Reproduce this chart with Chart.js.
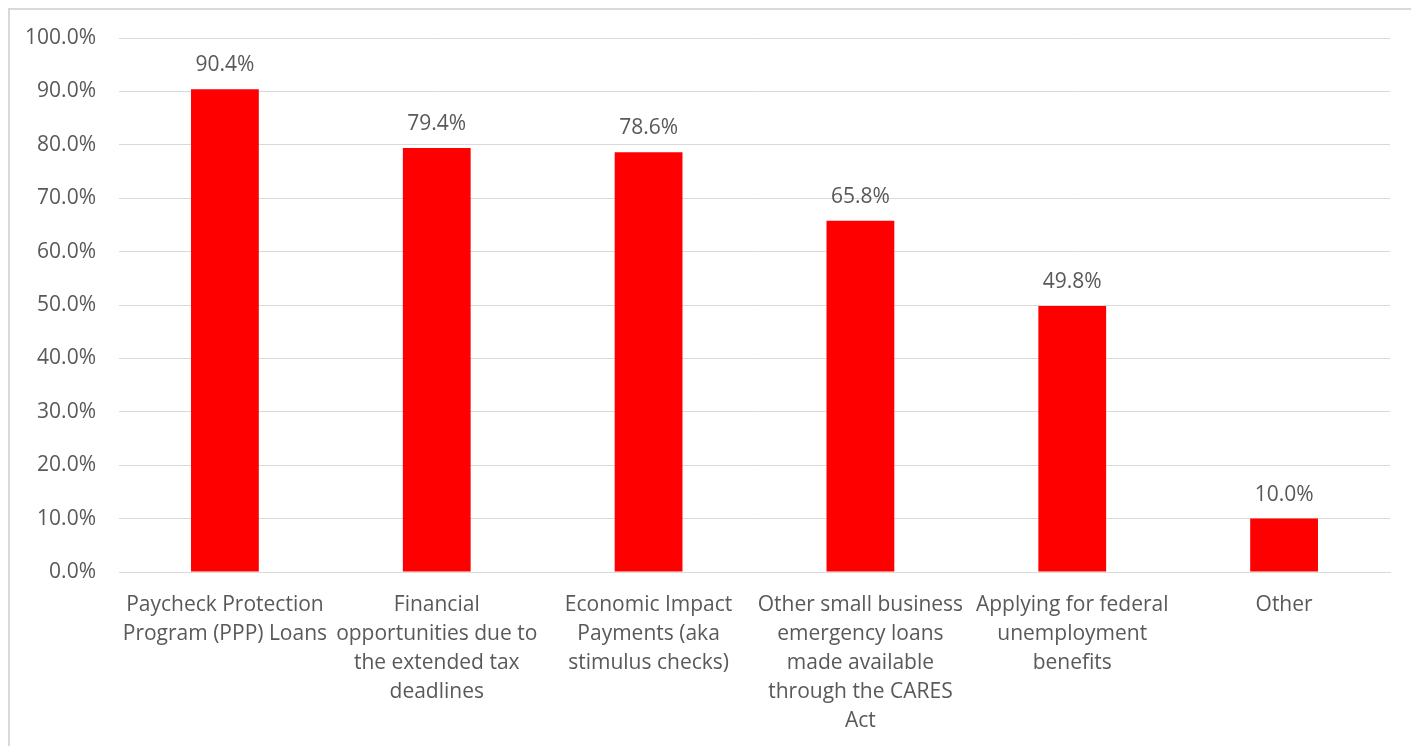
<!DOCTYPE html>
<html>
<head>
<meta charset="utf-8">
<script src="https://cdn.jsdelivr.net/npm/chart.js@4.4.1/dist/chart.umd.min.js"></script>
<style>
html,body{margin:0;padding:0;background:#fff;overflow:hidden;}
#wrap{position:absolute;left:0;top:0;width:1411px;height:746px;}
</style>
</head>
<body>
<div id="wrap"><canvas id="c" width="1411" height="746"></canvas></div>
<script>
const categories = [
  ["Paycheck Protection", "Program (PPP) Loans"],
  ["Financial", "opportunities due to", "the extended tax", "deadlines"],
  ["Economic Impact", "Payments (aka", "stimulus checks)"],
  ["Other small business", "emergency loans", "made available", "through the CARES", "Act"],
  ["Applying for federal", "unemployment", "benefits"],
  ["Other"]
];
const values = [90.4, 79.4, 78.6, 65.8, 49.8, 10.0];
const yTicks = [0, 10, 20, 30, 40, 50, 60, 70, 80, 90, 100];

const FONT = "'Open Sans', Lato, sans-serif";
const TEXT = "#595959";
const FS = 21;

const borderPlugin = {
  id: 'outerBorder',
  beforeDraw(chart) {
    const ctx = chart.ctx;
    ctx.save();
    ctx.fillStyle = '#fff';
    ctx.fillRect(0, 0, chart.width, chart.height);
    ctx.strokeStyle = '#d9d9d9';
    ctx.lineWidth = 2;
    ctx.beginPath();
    ctx.moveTo(9, chart.height + 5);
    ctx.lineTo(9, 9);
    ctx.lineTo(chart.width + 5, 9);
    ctx.stroke();
    ctx.restore();
  }
};

const labelPlugin = {
  id: 'valueLabels',
  afterDatasetsDraw(chart) {
    const ctx = chart.ctx;
    const meta = chart.getDatasetMeta(0);
    ctx.save();
    ctx.fillStyle = TEXT;
    ctx.font = FS + "px " + FONT;
    ctx.textAlign = 'center';
    ctx.textBaseline = 'middle';
    meta.data.forEach((bar, i) => {
      ctx.fillText(values[i].toFixed(1) + '%', bar.x, bar.y - 24);
    });
    ctx.restore();
  }
};

new Chart(document.getElementById('c'), {
  type: 'bar',
  data: {
    labels: categories,
    datasets: [{
      data: values,
      backgroundColor: '#ff0000',
      borderWidth: 0,
      categoryPercentage: 1.0,
      barPercentage: 0.32
    }]
  },
  options: {
    responsive: false,
    animation: false,
    devicePixelRatio: 1,
    layout: { padding: { top: 38, right: 21, left: 0, bottom: 0 } },
    plugins: { legend: { display: false }, tooltip: { enabled: false } },
    scales: {
      x: {
        grid: { display: false, drawTicks: false },
        border: { display: true, color: '#d9d9d9', width: 1 },
        ticks: {
          color: TEXT,
          font: { family: FONT, size: FS, lineHeight: 29 / FS },
          padding: 19,
          maxRotation: 0,
          autoSkip: false
        },
        afterFit(scale) { scale.height = 174; }
      },
      y: {
        min: 0, max: 100,
        afterBuildTicks(scale) { scale.ticks = yTicks.map(v => ({ value: v })); },
        grid: { color: '#d9d9d9', lineWidth: 1, drawTicks: false },
        border: { display: false },
        ticks: {
          color: TEXT,
          font: { family: FONT, size: FS },
          padding: 23,
          callback: v => Number(v).toFixed(1) + '%'
        },
        afterFit(scale) { scale.width = 119; }
      }
    }
  },
  plugins: [borderPlugin, labelPlugin]
});
</script>
</body>
</html>
